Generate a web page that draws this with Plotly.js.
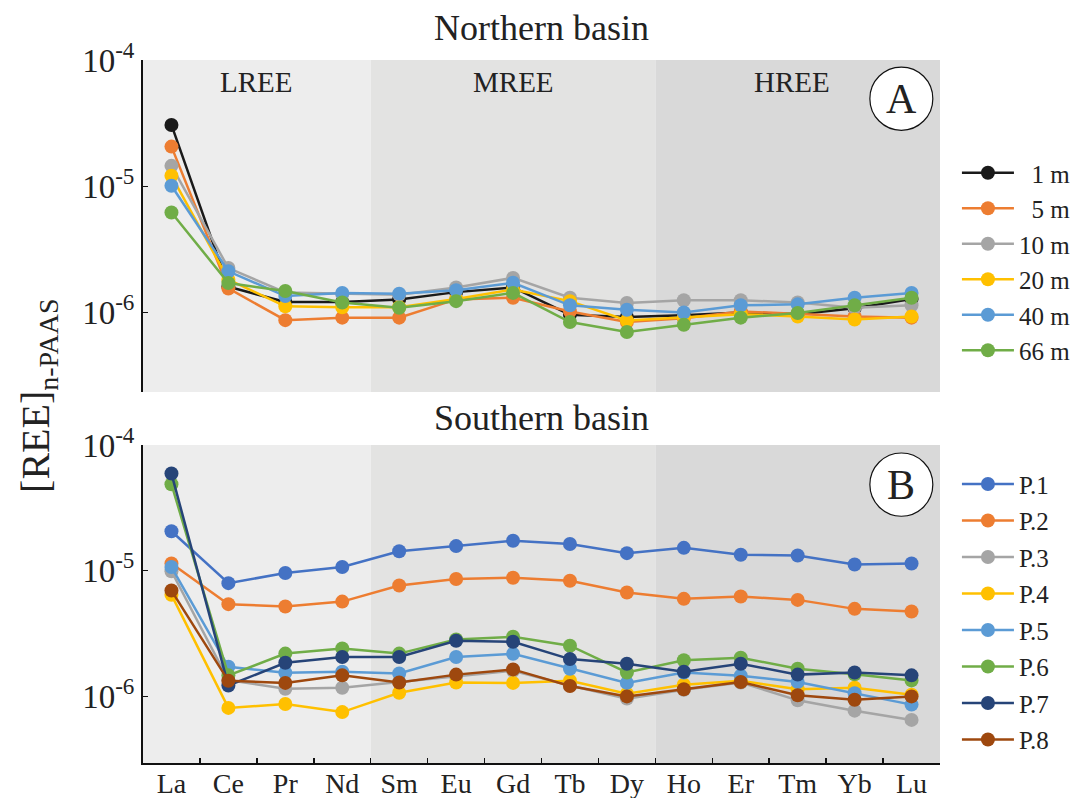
<!DOCTYPE html>
<html>
<head>
<meta charset="utf-8">
<script src="https://cdn.plot.ly/plotly-3.0.1.min.js"></script>
<style>html,body{margin:0;padding:0;background:#fff;}#chart{width:1074px;height:798px;}</style>
</head>
<body>
<div id="chart"></div>
<script>
// Rare earth elements (x categories)
const elements = ['La','Ce','Pr','Nd','Sm','Eu','Gd','Tb','Dy','Ho','Er','Tm','Yb','Lu'];

// Northern basin, depth profiles
const northNames = ['\u00a0\u00a01 m','\u00a0\u00a05 m','10 m','20 m','40 m','66 m'];
const north_1m  = [3.06e-5, 1.60e-6, 1.21e-6, 1.21e-6, 1.27e-6, 1.45e-6, 1.58e-6, 0.96e-6, 0.92e-6, 0.95e-6, 1.00e-6, 0.97e-6, 1.08e-6, 1.28e-6];
const north_5m  = [2.06e-5, 1.55e-6, 0.87e-6, 0.91e-6, 0.91e-6, 1.27e-6, 1.31e-6, 1.02e-6, 0.84e-6, 0.90e-6, 1.02e-6, 0.98e-6, 0.93e-6, 0.91e-6];
const north_10m = [1.45e-5, 2.25e-6, 1.44e-6, 1.40e-6, 1.38e-6, 1.58e-6, 1.88e-6, 1.31e-6, 1.19e-6, 1.25e-6, 1.25e-6, 1.20e-6, 1.09e-6, 1.14e-6];
const north_20m = [1.21e-5, 1.82e-6, 1.12e-6, 1.10e-6, 1.10e-6, 1.28e-6, 1.52e-6, 1.23e-6, 0.865e-6, 0.91e-6, 0.97e-6, 0.93e-6, 0.88e-6, 0.93e-6];
const north_40m = [1.01e-5, 2.12e-6, 1.35e-6, 1.43e-6, 1.41e-6, 1.50e-6, 1.72e-6, 1.14e-6, 1.05e-6, 1.00e-6, 1.14e-6, 1.16e-6, 1.31e-6, 1.43e-6];
const north_66m = [6.2e-6, 1.71e-6, 1.48e-6, 1.20e-6, 1.09e-6, 1.23e-6, 1.43e-6, 0.84e-6, 0.70e-6, 0.80e-6, 0.91e-6, 0.99e-6, 1.14e-6, 1.31e-6];
const northColors = ['#1a1a1a','#ed7d31','#a5a5a5','#ffc000','#5b9bd5','#70ad47'];

// Southern basin, stations
const southNames = ['P.1','P.2','P.3','P.4','P.5','P.6','P.7','P.8'];
const south_P1 = [2.06e-5, 7.96e-6, 9.58e-6, 1.07e-5, 1.43e-5, 1.57e-5, 1.73e-5, 1.63e-5, 1.38e-5, 1.52e-5, 1.34e-5, 1.32e-5, 1.12e-5, 1.14e-5];
const south_P2 = [1.14e-5, 5.42e-6, 5.19e-6, 5.68e-6, 7.63e-6, 8.58e-6, 8.80e-6, 8.32e-6, 6.71e-6, 5.97e-6, 6.23e-6, 5.86e-6, 4.97e-6, 4.73e-6];
const south_P3 = [9.9e-6, 1.35e-6, 1.15e-6, 1.17e-6, 1.30e-6, 1.45e-6, 1.60e-6, 1.22e-6, 0.96e-6, 1.13e-6, 1.29e-6, 0.93e-6, 0.77e-6, 0.65e-6];
const south_P4 = [6.43e-6, 0.81e-6, 0.87e-6, 0.75e-6, 1.07e-6, 1.29e-6, 1.28e-6, 1.33e-6, 1.05e-6, 1.24e-6, 1.33e-6, 1.14e-6, 1.17e-6, 1.03e-6];
const south_P5 = [1.07e-5, 1.72e-6, 1.54e-6, 1.57e-6, 1.52e-6, 2.06e-6, 2.18e-6, 1.66e-6, 1.28e-6, 1.55e-6, 1.46e-6, 1.30e-6, 1.06e-6, 0.86e-6];
const south_P6 = [4.88e-5, 1.47e-6, 2.19e-6, 2.41e-6, 2.19e-6, 2.84e-6, 2.98e-6, 2.53e-6, 1.55e-6, 1.94e-6, 2.03e-6, 1.66e-6, 1.50e-6, 1.34e-6];
const south_P7 = [5.93e-5, 1.22e-6, 1.85e-6, 2.06e-6, 2.06e-6, 2.77e-6, 2.72e-6, 1.98e-6, 1.82e-6, 1.57e-6, 1.82e-6, 1.49e-6, 1.55e-6, 1.47e-6];
const south_P8 = [6.95e-6, 1.33e-6, 1.28e-6, 1.47e-6, 1.29e-6, 1.49e-6, 1.64e-6, 1.21e-6, 1.00e-6, 1.14e-6, 1.30e-6, 1.02e-6, 0.94e-6, 1.00e-6];
const southColors = ['#4472c4','#ed7d31','#a5a5a5','#ffc000','#5b9bd5','#70ad47','#264478','#9e480e'];

// Tick labels
const yTickVals = [1e-6, 1e-5, 1e-4];
const yTickText = ['10<sup>-6</sup>','10<sup>-5</sup>','10<sup>-4</sup>'];
const groupLabels = ['LREE','MREE','HREE'];

const FONT = 'Liberation Serif, Times New Roman, serif';
const northSeries = [north_1m, north_5m, north_10m, north_20m, north_40m, north_66m];
const southSeries = [south_P1, south_P2, south_P3, south_P4, south_P5, south_P6, south_P7, south_P8];

const traces = [];
northSeries.forEach((vals, i) => {
  traces.push({
    x: elements, y: vals, type: 'scatter', mode: 'lines+markers',
    name: northNames[i], legend: 'legend', legendgroup: 'n' + i,
    xaxis: 'x', yaxis: 'y',
    line: {color: northColors[i], width: 2.5},
    marker: {color: northColors[i], size: 14}
  });
});
southSeries.forEach((vals, i) => {
  traces.push({
    x: elements, y: vals, type: 'scatter', mode: 'lines+markers',
    name: southNames[i], legend: 'legend2', legendgroup: 's' + i,
    xaxis: 'x2', yaxis: 'y2',
    line: {color: southColors[i], width: 2.5},
    marker: {color: southColors[i], size: 14}
  });
});

const shadeCols = ['#ededed','#e3e3e2','#d9d9d9'];
const bounds = [-0.5, 3.5, 8.5, 13.5];
const shapes = [];
[['x','y domain'],['x2','y2 domain']].forEach(([xr, yr]) => {
  for (let k = 0; k < 3; k++) {
    shapes.push({type:'rect', xref: xr, yref: yr, x0: bounds[k], x1: bounds[k+1], y0: 0, y1: 1,
      fillcolor: shadeCols[k], line: {width: 0}, layer: 'below'});
  }
});
shapes.push({type:'circle', xref:'paper', yref:'paper', x0:0.912, x1:0.991, y0:0.900, y1:0.990,
  fillcolor:'#ffffff', line:{color:'#111', width:1.2}, layer:'below'});
shapes.push({type:'circle', xref:'paper', yref:'paper', x0:0.912, x1:0.991, y0:0.351, y1:0.441,
  fillcolor:'#ffffff', line:{color:'#111', width:1.2}, layer:'below'});

const ann = (text, xref, x, y, size, extra) => Object.assign({
  text, xref, yref:'paper', x, y, xanchor:'center', yanchor:'middle', showarrow:false,
  font:{family:FONT, size, color:'#222'}
}, extra || {});

const annotations = [
  ann('Northern basin', 'paper', 0.5, 1.0455, 36),
  ann('Southern basin', 'paper', 0.5, 0.4908, 36),
  ann('[REE]<sub>n-PAAS</sub>', 'paper', -0.131, 0.523, 40, {textangle:-90}),
  ann('A', 'paper', 0.9515, 0.945, 42),
  ann('B', 'paper', 0.9515, 0.396, 42),
  ann(groupLabels[0], 'x', 1.5, 0.969, 29),
  ann(groupLabels[1], 'x', 6.0, 0.969, 29),
  ann(groupLabels[2], 'x', 10.9, 0.969, 29)
];

const yaxisBase = {
  type:'log', tickvals: yTickVals, ticktext: yTickText, ticks:'inside', ticklen:5, tickwidth:1.5, tickcolor:'#111',
  showline:true, linecolor:'#111', linewidth:2, showgrid:false, zeroline:false, automargin:false,
  tickfont:{family:FONT, size:33, color:'#222'}
};

const layout = {
  width:1074, height:798,
  margin:{l:143, r:134, t:60, b:35},
  paper_bgcolor:'#ffffff', plot_bgcolor:'#ffffff',
  font:{family:FONT, color:'#222'},
  showlegend:true,
  xaxis:{type:'category', categoryorder:'array', categoryarray: elements, range:[-0.5,13.5], anchor:'y',
    showline:false, showticklabels:false, ticks:'', showgrid:false, zeroline:false, automargin:false},
  yaxis:Object.assign({}, yaxisBase, {domain:[0.5277,1], range:[-6.63,-4], anchor:'x'}),
  xaxis2:{type:'category', categoryorder:'array', categoryarray: elements, range:[-0.5,13.5], anchor:'y2',
    showline:true, linecolor:'#111', linewidth:2, ticks:'inside', tickson:'boundaries', ticklen:5, tickwidth:1.5, tickcolor:'#111',
    showgrid:false, zeroline:false, automargin:false, ticklabelstandoff:-6,
    tickfont:{family:FONT, size:28, color:'#222'}},
  yaxis2:Object.assign({}, yaxisBase, {domain:[0,0.4523], range:[-6.53,-4], anchor:'x2'}),
  legend:{xref:'container', yref:'container', x:0.891, xanchor:'left', y:0.812, yanchor:'top', bgcolor:'rgba(0,0,0,0)',
    font:{family:FONT, size:25, color:'#222'}, tracegroupgap:0, itemwidth:52},
  legend2:{xref:'container', yref:'container', x:0.891, xanchor:'left', y:0.422, yanchor:'top', bgcolor:'rgba(0,0,0,0)',
    font:{family:FONT, size:25, color:'#222'}, tracegroupgap:1, itemwidth:52},
  shapes: shapes,
  annotations: annotations
};

Plotly.newPlot('chart', traces, layout, {displayModeBar:false, staticPlot:true});
</script>
</body>
</html>
